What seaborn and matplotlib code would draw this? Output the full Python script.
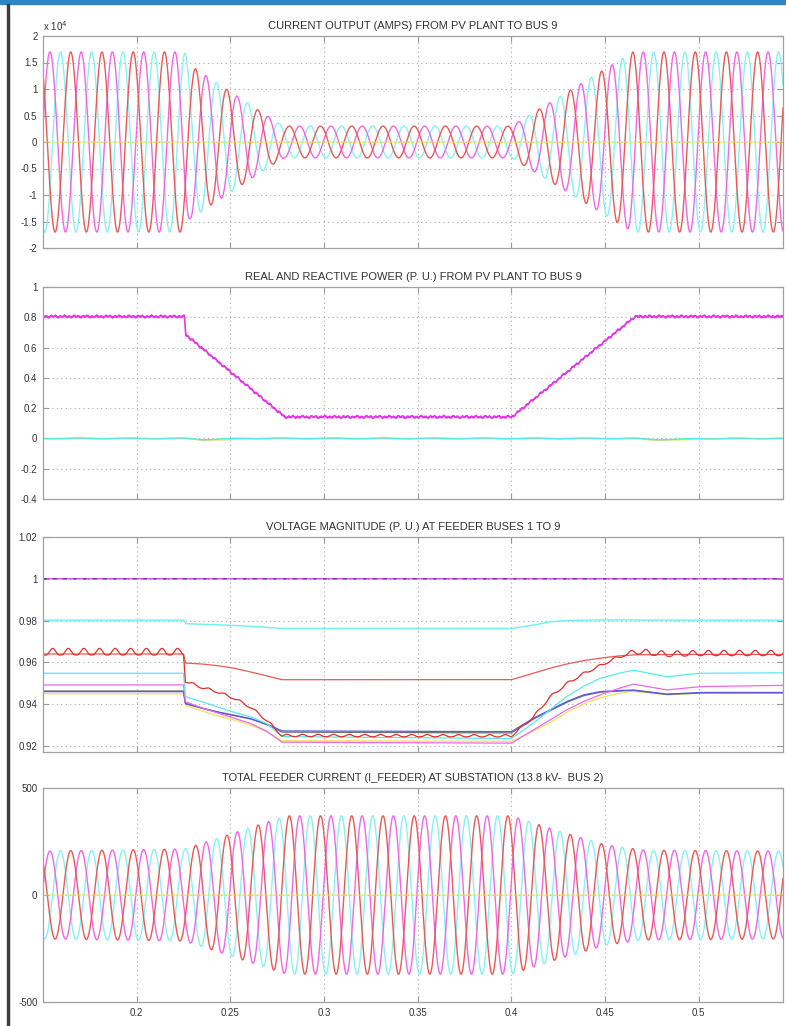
import numpy as np
import pandas as pd
import matplotlib
matplotlib.use("Agg")
import matplotlib.pyplot as plt
from matplotlib.patches import Rectangle
import seaborn as sns

# ---------------- data ----------------
F_HZ = 60.0
# peak times of each phase (s) -> three-phase ordering
PEAK_T = {"magenta": 0.1537, "cyan": 0.1593, "red": 0.1648}

# PV plant current envelope (x 1e4 A)
PV_T = [0.15, 0.2255, 0.2285, 0.2754, 0.279, 0.400, 0.465, 0.545]
PV_A = [1.70, 1.70, 1.45, 0.36, 0.30, 0.30, 1.70, 1.70]

# Feeder current envelope (A)
FD_T = [0.15, 0.2255, 0.280, 0.400, 0.425, 0.450, 0.470, 0.545]
FD_A = [205, 215, 370, 370, 300, 235, 210, 205]

# Real power P (p.u.)
P_T = [0.15, 0.2255, 0.2262, 0.279, 0.4003, 0.466, 0.545]
P_V = [0.805, 0.805, 0.685, 0.142, 0.142, 0.805, 0.805]
P_RIPPLE = 0.0045
# Reactive power Q (p.u.)
Q_T = [0.15, 0.2255, 0.235, 0.248, 0.256, 0.466, 0.475, 0.49, 0.50, 0.545]
Q_CYAN = [0.0, 0.0, -0.006, -0.004, 0.0, 0.0, -0.006, -0.006, -0.001, 0.0]
Q_YELLOW = [0.0, 0.0, -0.012, -0.010, 0.0, 0.0, -0.012, -0.010, -0.002, 0.0]

# Voltage magnitudes (p.u.)
V_T = [0.15, 0.2250, 0.2260, 0.2338, 0.2427, 0.2516, 0.2605, 0.2694, 0.2775,
       0.400, 0.4116, 0.4205, 0.4294, 0.4383, 0.4472, 0.4561, 0.465, 0.4828,
       0.5006, 0.545]
V_CYAN_TOP = [0.9802, 0.9802, 0.9785, 0.9783, 0.9780, 0.9777, 0.9773, 0.9768, 0.9762,
              0.9762, 0.9778, 0.9794, 0.9800, 0.9802, 0.9803, 0.9803, 0.9803, 0.9802,
              0.9802, 0.9802]
V_RED_SMOOTH = [0.9640, 0.9640, 0.9597, 0.9593, 0.9585, 0.9573, 0.9555, 0.9535, 0.9517,
                0.9517, 0.9548, 0.9572, 0.9592, 0.9608, 0.9620, 0.9630, 0.9636, 0.9638,
                0.9638, 0.9638]
V_RED_RIPPLE = [0.9635, 0.9635, 0.9505, 0.9478, 0.9455, 0.9425, 0.9382, 0.9318, 0.9245,
                0.9243, 0.9332, 0.9428, 0.9492, 0.9540, 0.9578, 0.9617, 0.9642, 0.9628,
                0.9632, 0.9632]
V_CYAN2 = [0.9548, 0.9548, 0.9436, 0.9415, 0.9388, 0.9362, 0.9340, 0.9308, 0.9245,
           0.9235, 0.9308, 0.9372, 0.9436, 0.9484, 0.9523, 0.9545, 0.9563, 0.9531,
           0.9548, 0.9550]
V_MAG2 = [0.9492, 0.9492, 0.9412, 0.9385, 0.9359, 0.9334, 0.9309, 0.9270, 0.9218,
          0.9213, 0.9276, 0.9324, 0.9372, 0.9412, 0.9444, 0.9472, 0.9496, 0.9468,
          0.9484, 0.9490]
V_BLUE = [0.9460, 0.9460, 0.9404, 0.9384, 0.9364, 0.9348, 0.9332, 0.9305, 0.9272,
          0.9268, 0.9332, 0.9372, 0.9412, 0.9444, 0.9460, 0.9465, 0.9468, 0.9448,
          0.9456, 0.9456]
V_GRAY = [0.9463, 0.9463, 0.9402, 0.9382, 0.9362, 0.9346, 0.9330, 0.9302, 0.9266,
          0.9262, 0.9328, 0.9368, 0.9408, 0.9440, 0.9457, 0.9462, 0.9466, 0.9446,
          0.9454, 0.9454]
V_YELLOW = [0.9450, 0.9450, 0.9395, 0.9370, 0.9345, 0.9325, 0.9300, 0.9270, 0.9225,
            0.9222, 0.9270, 0.9310, 0.9360, 0.9400, 0.9430, 0.9450, 0.9462, 0.9445,
            0.9452, 0.9452]
V_ONE = 1.0
V_RIPPLE_AMP = 0.0032
V_RIPPLE_T = [0.15, 0.225, 0.226, 0.2775, 0.40, 0.462, 0.466, 0.545]
V_RIPPLE_K = [1.0, 1.0, 0.35, 0.35, 0.35, 0.35, 0.8, 0.8]

TITLES = ["CURRENT OUTPUT (AMPS) FROM PV PLANT TO BUS 9",
          "REAL AND REACTIVE POWER (P. U.) FROM PV PLANT TO BUS 9",
          "VOLTAGE MAGNITUDE (P. U.) AT FEEDER BUSES 1 TO 9",
          "TOTAL FEEDER CURRENT (I_FEEDER) AT SUBSTATION (13.8 kV-  BUS 2)"]
X_TICKS = [0.2, 0.25, 0.3, 0.35, 0.4, 0.45, 0.5]
X_LABELS = ["0.2", "0.25", "0.3", "0.35", "0.4", "0.45", "0.5"]
Y1_TICKS = [-2, -1.5, -1, -0.5, 0, 0.5, 1, 1.5, 2]
Y1_LABELS = ["-2", "-1.5", "-1", "-0.5", "0", "0.5", "1", "1.5", "2"]
Y2_TICKS = [-0.4, -0.2, 0, 0.2, 0.4, 0.6, 0.8, 1]
Y2_LABELS = ["-0.4", "-0.2", "0", "0.2", "0.4", "0.6", "0.8", "1"]
Y3_TICKS = [0.92, 0.94, 0.96, 0.98, 1.0, 1.02]
Y3_LABELS = ["0.92", "0.94", "0.96", "0.98", "1", "1.02"]
Y4_TICKS = [-500, 0, 500]
Y4_LABELS = ["-500", "0", "500"]

# ---------------- styling ----------------
sns.set_theme(style="white")
plt.rcParams["font.family"] = ["Liberation Sans", "DejaVu Sans"]
RED = "#e85a55"
MAG = "#f066e8"
CYN = "#88f2f2"
YEL = "#eee25a"

W, H = 786, 1026
fig = plt.figure(figsize=(W / 100, H / 100), dpi=100)
fig.patch.set_facecolor("white")
fig.add_artist(Rectangle((0, 1 - 4 / H), 1, 4 / H, transform=fig.transFigure,
                         color="#2f86c4", zorder=10))
fig.add_artist(Rectangle((7 / W, 0), 2 / W, 1 - 4 / H, transform=fig.transFigure,
                         color="#3c3c3c", zorder=10))

boxes = [(36, 248), (287, 499), (537, 752), (788, 1002)]
L, R = 43, 783
axes = []
for top, bot in boxes:
    ax = fig.add_axes([L / W, 1 - bot / H, (R - L) / W, (bot - top) / H])
    axes.append(ax)

t = np.linspace(0.15, 0.545, 6000)


def line(ax, x, y, color, lw=1.0, **kw):
    sns.lineplot(x=x, y=y, ax=ax, color=color, linewidth=lw, estimator=None,
                 sort=False, legend=False, **kw)


def phase_wave(env_t, env_a, key):
    env = np.interp(t, env_t, env_a)
    return env * np.cos(2 * np.pi * F_HZ * (t - PEAK_T[key]))


# panel 1
ax = axes[0]
for key, c in [("cyan", CYN), ("magenta", MAG), ("red", RED)]:
    line(ax, t, phase_wave(PV_T, PV_A, key), c, 1.0)
line(ax, t, np.zeros_like(t), YEL, 0.7)
ax.set_ylim(-2, 2)
ax.set_yticks(Y1_TICKS, Y1_LABELS)
ax.text(0.0, 1.012, r"x 10$^4$", transform=ax.transAxes, fontsize=7,
        color="#333333", ha="left", va="bottom")

# panel 2
ax = axes[1]
p = np.interp(t, P_T, P_V) + P_RIPPLE * (np.sin(2 * np.pi * 410 * t)
                                         + 0.7 * np.sin(2 * np.pi * 1270 * t + 1.0)
                                         + 0.6 * np.sin(2 * np.pi * 173 * t + 2.0))
line(ax, t, np.interp(t, Q_T, Q_YELLOW), YEL, 1.0)
q = np.interp(t, Q_T, Q_CYAN) + 0.003 * np.sin(2 * np.pi * 37 * t)
line(ax, t, q, "#55e6e6", 1.0)
line(ax, t, p, "#e23ae2", 1.2)
ax.set_ylim(-0.4, 1)
ax.set_yticks(Y2_TICKS, Y2_LABELS)

# panel 3
ax = axes[2]
line(ax, t, np.interp(t, V_T, V_YELLOW), YEL, 0.9)
line(ax, t, np.interp(t, V_T, V_GRAY), "#707070", 0.9)
line(ax, t, np.interp(t, V_T, V_BLUE), "#5a5ae0", 0.9)
line(ax, t, np.interp(t, V_T, V_MAG2), MAG, 0.9)
line(ax, t, np.interp(t, V_T, V_CYAN2), "#5ee8ee", 0.9)
line(ax, t, np.interp(t, V_T, V_RED_SMOOTH), RED, 0.9)
rip = np.abs(np.sin(np.pi * 2 * F_HZ * (t - 0.151))) ** 3
amp = np.interp(t, V_RIPPLE_T, V_RIPPLE_K) * V_RIPPLE_AMP
line(ax, t, np.interp(t, V_T, V_RED_RIPPLE) + amp * rip, "#e0302a", 0.9)
line(ax, t, np.full_like(t, V_ONE), "#e040e0", 1.0)
line(ax, t, np.full_like(t, V_ONE), "#4040c0", 0.9, linestyle=(0, (3, 5)))
line(ax, t, np.interp(t, V_T, V_CYAN_TOP), "#6eeef0", 1.0)
ax.set_ylim(0.9171, 1.02)
ax.set_yticks(Y3_TICKS, Y3_LABELS)

# panel 4
ax = axes[3]
for key, c in [("cyan", CYN), ("magenta", MAG), ("red", RED)]:
    line(ax, t, phase_wave(FD_T, FD_A, key), c, 1.0)
line(ax, t, np.zeros_like(t), YEL, 0.7)
ax.set_ylim(-500, 500)
ax.set_yticks(Y4_TICKS, Y4_LABELS)

for i, ax in enumerate(axes):
    ax.set_xlim(0.15, 0.545)
    ax.set_xticks(X_TICKS)
    if i == 3:
        ax.set_xticklabels(X_LABELS)
    else:
        ax.set_xticklabels([])
    ax.set_xlabel("")
    ax.set_ylabel("")
    ax.set_facecolor("white")
    ax.grid(True, color="#a8a8a8", linestyle=(0, (1, 3)), linewidth=0.8)
    ax.set_axisbelow(True)
    ax.tick_params(direction="in", length=4, width=0.8, color="#9a9a9a",
                   labelsize=7, labelcolor="#333333", pad=4,
                   top=True, right=True, bottom=True, left=True)
    for s in ax.spines.values():
        s.set_color("#a0a0a0")
        s.set_linewidth(0.9)
        s.set_visible(True)
    ax.set_title(TITLES[i], fontsize=8, color="#333333", pad=5)

fig.savefig("out.png", dpi=100, facecolor="white")
